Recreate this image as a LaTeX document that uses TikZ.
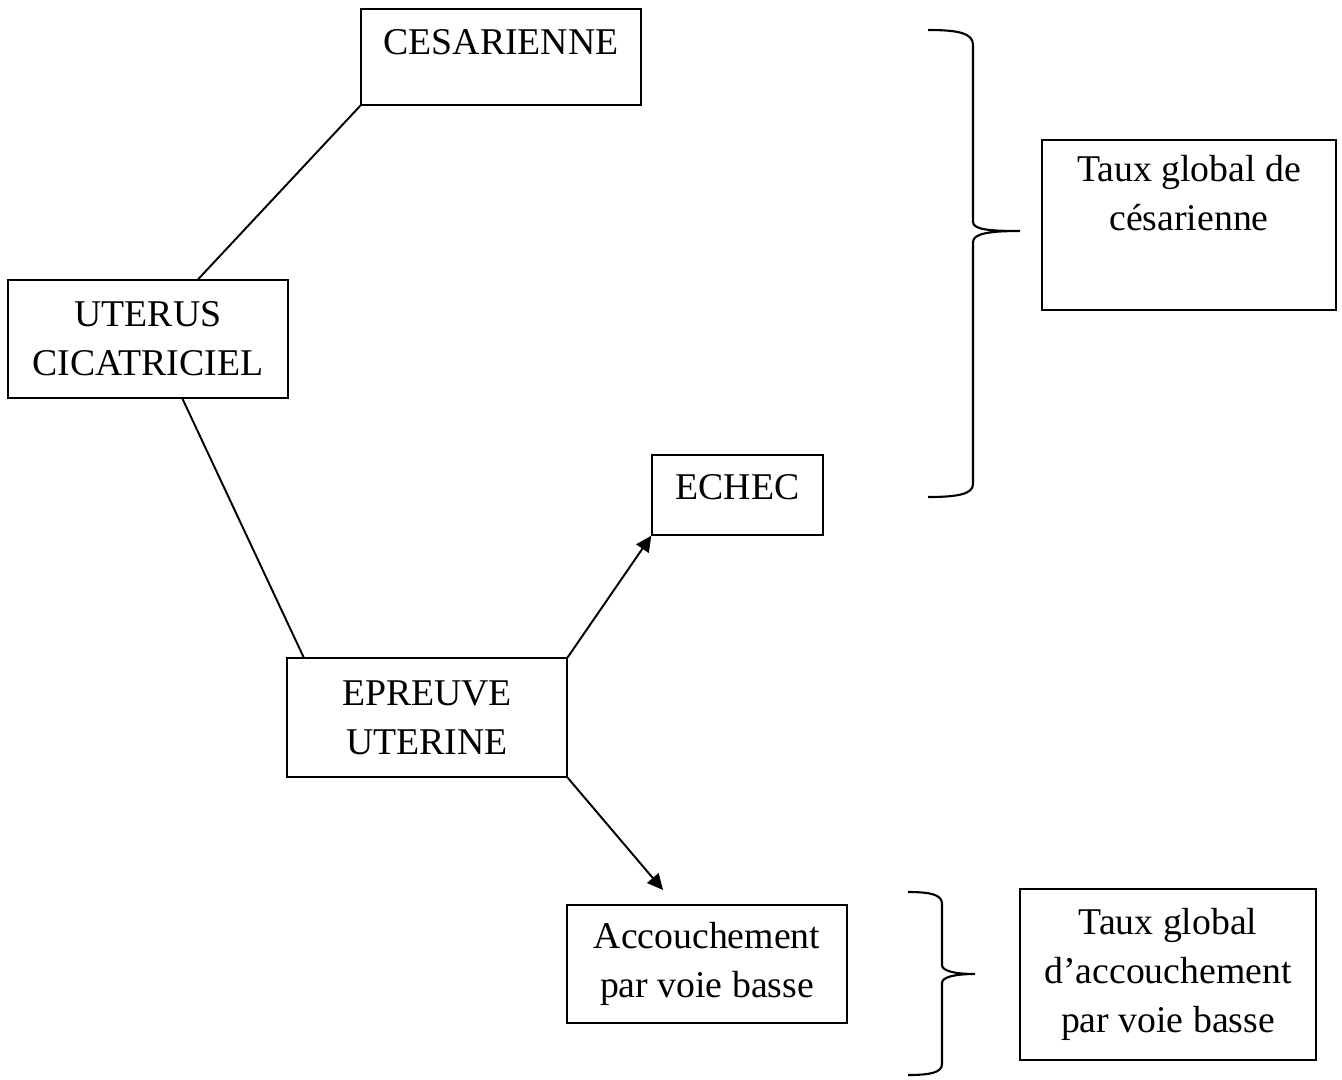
\documentclass[tikz,border=0pt]{standalone}
\usepackage{fontspec}
\setmainfont{Liberation Serif}
\usetikzlibrary{arrows.meta}
\begin{document}
\begin{tikzpicture}[x=0.02cm,y=-0.02cm,
  box/.style={draw, line width=0.75pt, align=center, inner sep=0pt,
    font=\fontsize{21.5}{27.9}\selectfont},
  link/.style={line width=1.1pt},
  arr/.style={line width=1.1pt, -{Triangle[length=9pt,width=8.5pt]}},
  bracepath/.style={line width=1.2pt}]
\useasboundingbox (0,0) rectangle (1342,1079);
\node[box, minimum width=5.6cm, minimum height=1.92cm, text depth=0.59cm] (ces) at (501,57) {CESARIENNE};
\node[box, minimum width=5.6cm, minimum height=2.36cm] (uterus) at (148,339) {UTERUS\\CICATRICIEL};
\node[box, minimum width=3.42cm, minimum height=1.6cm, text depth=0.31cm] (echec) at (737.5,495) {ECHEC};
\node[box, minimum width=5.6cm, minimum height=2.38cm] (epreuve) at (427,717.5) {EPREUVE\\UTERINE};
\node[box, minimum width=5.6cm, minimum height=2.36cm] (accouch) at (707,964) {Accouchement\\par voie basse};
\node[box, minimum width=5.88cm, minimum height=3.4cm] (taux1) at (1189,225) {Taux global de\\césarienne\\\strut};
\node[box, minimum width=5.92cm, minimum height=3.42cm] (taux2) at (1168,974.5) {Taux global\\d’accouchement\\par voie basse};
\coordinate (acctip) at (663,890);
\draw[link] (uterus.50) -- (ces.south west);
\draw[link] (uterus.-60) -- (epreuve.154);
\draw[arr] (epreuve.north east) -- (echec.south west);
\draw[arr] (epreuve.south east) -- (acctip);
% accolades
\draw[bracepath] (928,30) .. controls (958,30) and (973,33) .. (973,45) -- (973,222)
  .. controls (973,230) and (992,231) .. (1020,231)
  .. controls (992,231) and (973,233) .. (973,242) -- (973,484)
  .. controls (973,494) and (958,497) .. (928,497);
\draw[bracepath] (908,892) .. controls (932,892) and (942,895) .. (942,904) -- (942,965)
  .. controls (942,971) and (955,974) .. (975,974)
  .. controls (955,974) and (942,977) .. (942,983) -- (942,1064)
  .. controls (942,1072) and (932,1075) .. (908,1075);
\end{tikzpicture}
\end{document}
